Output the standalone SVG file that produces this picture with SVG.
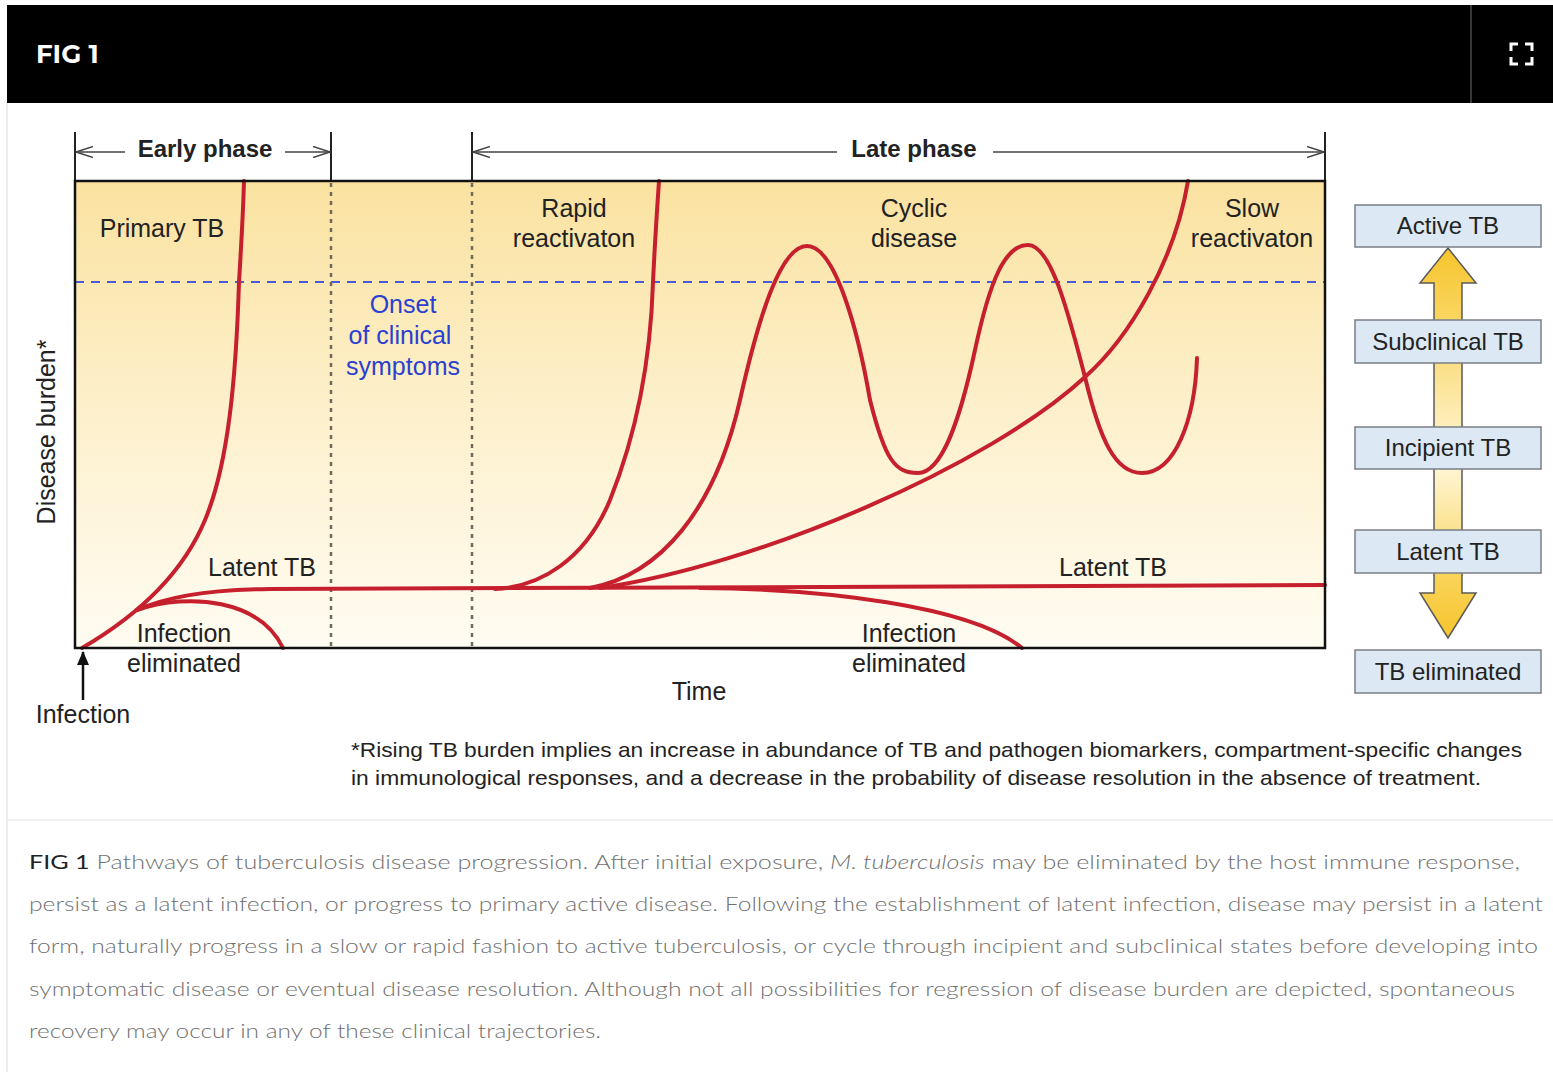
<svg xmlns="http://www.w3.org/2000/svg" width="1553" height="1072" viewBox="0 0 1553 1072">
<defs>
<style>
.lbl{font-family:"Liberation Sans",Arial,sans-serif;font-size:25px;fill:#222;text-anchor:middle}
.blue{font-family:"Liberation Sans",Arial,sans-serif;font-size:25px;fill:#2B3FD0;text-anchor:middle}
.phase{font-family:"Liberation Sans",Arial,sans-serif;font-size:24px;font-weight:bold;fill:#222;text-anchor:middle}
.curve{fill:none;stroke:#C61F2E;stroke-width:4;stroke-linecap:round}
.tick{stroke:#222;stroke-width:2}
.bline{stroke:#444;stroke-width:1.5;fill:none}
.dot{stroke:#6f6a5c;stroke-width:2.5;stroke-dasharray:4 5}
.box{fill:#DCE8F4;stroke:#7a7f86;stroke-width:1.5}
.boxt{font-family:"Liberation Sans",Arial,sans-serif;font-size:24px;fill:#222;text-anchor:middle}
.foot{font-family:"Liberation Sans",Arial,sans-serif;font-size:21px;fill:#222}
.cap{font-family:Lato,"Liberation Sans",sans-serif;font-size:20px;font-weight:300;fill:#707070}
</style>
<linearGradient id="bg" x1="0" y1="181" x2="0" y2="648" gradientUnits="userSpaceOnUse">
<stop offset="0" stop-color="#FAE2A0"/>
<stop offset="0.5" stop-color="#FDF0CC"/>
<stop offset="1" stop-color="#FFFCF2"/>
</linearGradient>
<linearGradient id="arr" x1="0" y1="248" x2="0" y2="638" gradientUnits="userSpaceOnUse">
<stop offset="0" stop-color="#F6C52C"/>
<stop offset="0.15" stop-color="#F9D257"/>
<stop offset="0.55" stop-color="#FFF7DA"/>
<stop offset="0.85" stop-color="#F9D257"/>
<stop offset="1" stop-color="#F6C52C"/>
</linearGradient>
<marker id="chev" viewBox="0 0 18 12" refX="17" refY="6" markerWidth="18" markerHeight="12" markerUnits="userSpaceOnUse" orient="auto-start-reverse">
<path d="M0,0.5 L17,6 L0,11.5" fill="none" stroke="#444" stroke-width="1.5"/>
</marker>
<marker id="up" viewBox="0 0 14 12" refX="13" refY="6" markerWidth="14" markerHeight="12" markerUnits="userSpaceOnUse" orient="auto">
<path d="M0,0 L14,6 L0,12 Z" fill="#111"/>
</marker>
</defs>

<rect width="1553" height="1072" fill="#fff"/>
<line x1="7" y1="103" x2="7" y2="1072" stroke="#e6e6e6" stroke-width="1.5"/>
<line x1="7" y1="820" x2="1553" y2="820" stroke="#ececec" stroke-width="1.5"/>

<g id="header">
<rect x="7" y="5" width="1546" height="98" fill="#000"/>
<line x1="1471" y1="5" x2="1471" y2="103" stroke="#4a4a4a" stroke-width="1.5"/>
<text x="36" y="63" font-family="Montserrat,'Liberation Sans',Arial,sans-serif" font-size="26" font-weight="bold" fill="#fff">FIG 1</text>
<path d="M1511,51 V44 H1518 M1525,44 H1532 V51 M1532,57 V64 H1525 M1518,64 H1511 V57" fill="none" stroke="#fff" stroke-width="3"/>
</g>

<g id="plot">
<rect x="75" y="181" width="1250" height="467" fill="url(#bg)"/>
<line x1="75" y1="282" x2="1325" y2="282" stroke="#4B5BD8" stroke-width="2" stroke-dasharray="9 7"/>
<line class="dot" x1="331" y1="183" x2="331" y2="646"/>
<line class="dot" x1="472" y1="183" x2="472" y2="646"/>
</g>

<g id="phases">
<line class="tick" x1="75" y1="132" x2="75" y2="181"/>
<line class="tick" x1="331" y1="132" x2="331" y2="181"/>
<line class="tick" x1="472" y1="132" x2="472" y2="181"/>
<line class="tick" x1="1325" y1="132" x2="1325" y2="181"/>
<line class="bline" x1="76" y1="152" x2="125" y2="152" marker-start="url(#chev)"/>
<line class="bline" x1="285" y1="152" x2="330" y2="152" marker-end="url(#chev)"/>
<line class="bline" x1="473" y1="152" x2="837" y2="152" marker-start="url(#chev)"/>
<line class="bline" x1="993" y1="152" x2="1324" y2="152" marker-end="url(#chev)"/>
<text class="phase" x="205" y="157">Early phase</text>
<text class="phase" x="914" y="157">Late phase</text>
</g>

<g id="connectors">
<path class="curve" d="M82,648 C130,620 180,580 205,520 C228,465 236,380 239,282 C241,250 243,215 244,181"/>
<path class="curve" d="M137,610 C190,592 260,600 283,648"/>
<path class="curve" d="M137,610 C165,598 200,590 270,589 L1325,585"/>
<path class="curve" d="M495,589 C540,587 585,560 610,500 C630,450 650,380 653,282 C655,240 657,210 659,181"/>
<path class="curve" d="M590,588 C660,575 715,510 740,400 C758,320 780,246 807,246 C835,246 858,330 870,400 C885,460 895,473 918,473 C942,473 960,420 975,350 C990,280 1005,245 1028,245 C1052,245 1070,320 1085,377 C1100,440 1115,473 1142,473 C1175,473 1195,420 1197,358"/>
<path class="curve" d="M600,588 C760,565 990,465 1085,377 C1130,337 1175,260 1188,181"/>
<path class="curve" d="M700,588 C820,589 970,605 1022,648"/>
<line x1="83" y1="700" x2="83" y2="652" stroke="#111" stroke-width="2.5" marker-end="url(#up)"/>
</g>

<rect x="75" y="181" width="1250" height="467" fill="none" stroke="#111" stroke-width="2.5"/>

<g id="labels">
<text class="lbl" x="162" y="237">Primary TB</text>
<text class="lbl" x="574" y="217">Rapid</text>
<text class="lbl" x="574" y="247">reactivaton</text>
<text class="lbl" x="914" y="217">Cyclic</text>
<text class="lbl" x="914" y="247">disease</text>
<text class="lbl" x="1252" y="217">Slow</text>
<text class="lbl" x="1252" y="247">reactivaton</text>
<text class="blue" x="403" y="313">Onset</text>
<text class="blue" x="400" y="344">of clinical</text>
<text class="blue" x="403" y="375">symptoms</text>
<text class="lbl" x="262" y="576">Latent TB</text>
<text class="lbl" x="1113" y="576">Latent TB</text>
<text class="lbl" x="184" y="642">Infection</text>
<text class="lbl" x="184" y="672">eliminated</text>
<text class="lbl" x="909" y="642">Infection</text>
<text class="lbl" x="909" y="672">eliminated</text>
<text class="lbl" x="699" y="700">Time</text>
<text class="lbl" x="83" y="723">Infection</text>
<text class="lbl" transform="translate(55,432) rotate(-90)">Disease burden*</text>
</g>

<g id="legend-arrow">
<polygon points="1448,248 1476,283 1462,283 1462,593 1476,593 1448,638 1420,593 1434,593 1434,283 1420,283" fill="url(#arr)" stroke="#5a5a5a" stroke-width="1.5" stroke-linejoin="miter"/>
</g>
<g id="node-active"><rect class="box" x="1355" y="205" width="186" height="42"/><text class="boxt" x="1448" y="234">Active TB</text></g>
<g id="node-subclinical"><rect class="box" x="1355" y="320" width="186" height="43"/><text class="boxt" x="1448" y="350">Subclinical TB</text></g>
<g id="node-incipient"><rect class="box" x="1355" y="427" width="186" height="42"/><text class="boxt" x="1448" y="456">Incipient TB</text></g>
<g id="node-latent"><rect class="box" x="1355" y="530" width="186" height="43"/><text class="boxt" x="1448" y="560">Latent TB</text></g>
<g id="node-eliminated"><rect class="box" x="1355" y="650" width="186" height="43"/><text class="boxt" x="1448" y="680">TB eliminated</text></g>

<g id="footnote">
<text class="foot" x="351" y="757" textLength="1171" lengthAdjust="spacingAndGlyphs">*Rising TB burden implies an increase in abundance of TB and pathogen biomarkers, compartment-specific changes</text>
<text class="foot" x="351" y="785" textLength="1130" lengthAdjust="spacingAndGlyphs">in immunological responses, and a decrease in the probability of disease resolution in the absence of treatment.</text>
</g>

<g id="caption">
<text class="cap" x="29" y="869" textLength="1491" lengthAdjust="spacingAndGlyphs"><tspan fill="#222" font-weight="normal">FIG 1</tspan> Pathways of tuberculosis disease progression. After initial exposure, <tspan font-style="italic">M. tuberculosis</tspan> may be eliminated by the host immune response,</text>
<text class="cap" x="29" y="911" textLength="1514" lengthAdjust="spacingAndGlyphs">persist as a latent infection, or progress to primary active disease. Following the establishment of latent infection, disease may persist in a latent</text>
<text class="cap" x="29" y="953" textLength="1509" lengthAdjust="spacingAndGlyphs">form, naturally progress in a slow or rapid fashion to active tuberculosis, or cycle through incipient and subclinical states before developing into</text>
<text class="cap" x="29" y="996" textLength="1486" lengthAdjust="spacingAndGlyphs">symptomatic disease or eventual disease resolution. Although not all possibilities for regression of disease burden are depicted, spontaneous</text>
<text class="cap" x="29" y="1038" textLength="572" lengthAdjust="spacingAndGlyphs">recovery may occur in any of these clinical trajectories.</text>
</g>
</svg>
